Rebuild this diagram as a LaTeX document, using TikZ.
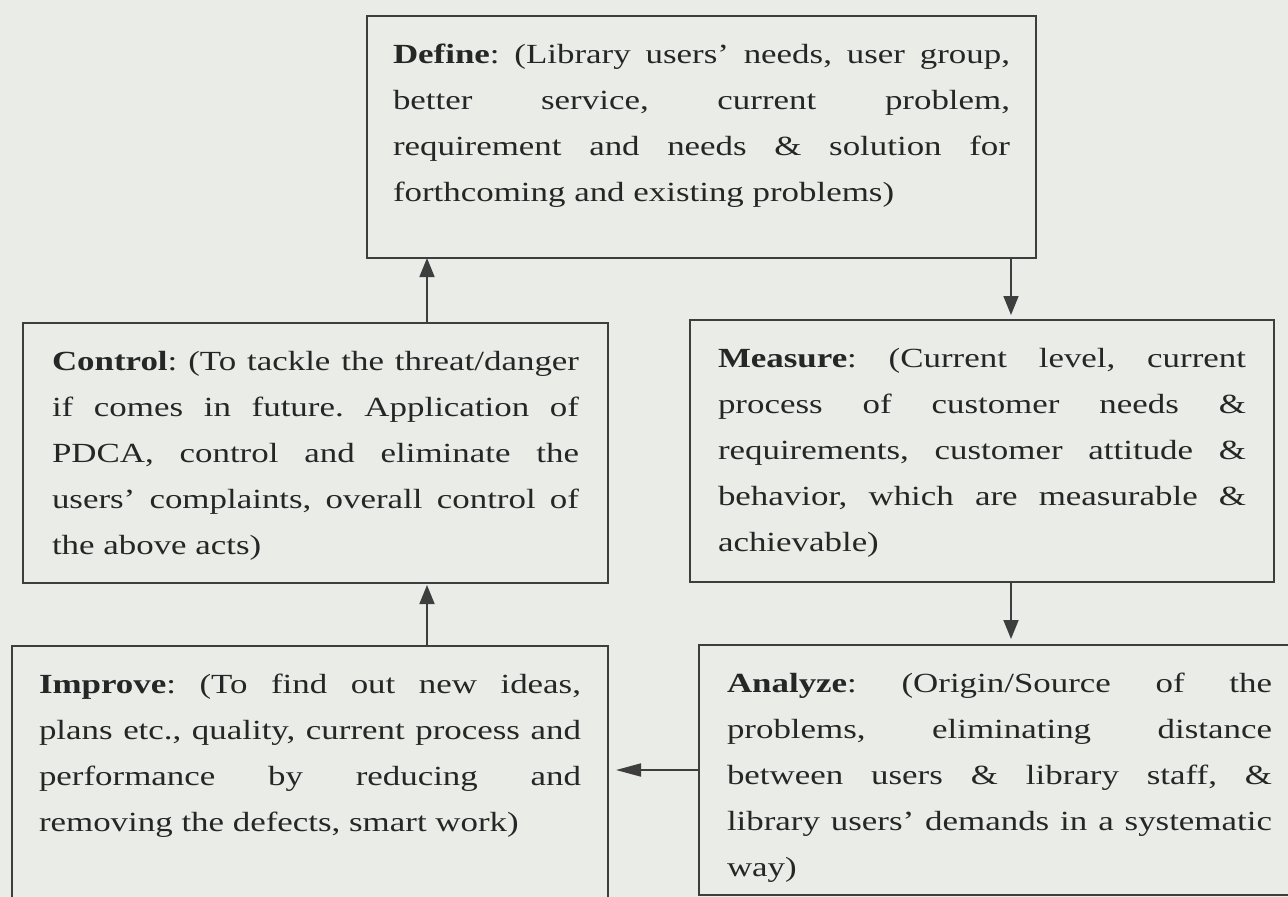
\documentclass[tikz,border=0pt]{standalone}
\usepackage{fontspec}
\setmainfont{Liberation Serif}[FakeStretch=1.26]
\usetikzlibrary{arrows.meta}
\definecolor{bgc}{RGB}{234,236,232}
\definecolor{linec}{RGB}{62,62,62}
\definecolor{textc}{RGB}{38,38,38}
\newcommand\jl[1]{\makebox[\linewidth][s]{#1}\par}
\newcommand\fs{\rule{0pt}{47pt}}
\frenchspacing
\tikzset{
  box/.style={draw=linec, line width=1.5pt, inner ysep=0pt, outer sep=0pt, anchor=north west,
    font=\fontsize{27.7}{46}\selectfont\frenchspacing, text=textc},
  arr/.style={draw=linec, line width=1.7pt, -{Triangle[length=19pt,width=15pt]}},
  harr/.style={draw=linec, line width=1.7pt, -{Triangle[length=25pt,width=13pt]}}
}
\begin{document}
\begin{tikzpicture}[x=1pt,y=-1pt]
\useasboundingbox (0,0) rectangle (1288,897);
\clip (0,0) rectangle (1288,897);
\fill[bgc] (0,0) rectangle (1288,897);

\node[box, inner xsep=26pt] (def) at (367,16) {\begin{minipage}[c][242pt][t]{617pt}
\fs\jl{\textbf{Define}: (Library users’ needs, user group,}
\jl{better service, current problem,}
\jl{requirement and needs \& solution for}
forthcoming and existing problems)
\end{minipage}};

\node[box, inner xsep=29pt] (ctrl) at (23,323) {\begin{minipage}[c][260pt][t]{527pt}
\fs\jl{\textbf{Control}: (To tackle the threat/danger}
\jl{if comes in future. Application of}
\jl{PDCA, control and eliminate the}
\jl{users’ complaints, overall control of}
the above acts)
\end{minipage}};

\node[box, inner xsep=28pt] (meas) at (690,320) {\begin{minipage}[c][262pt][t]{528pt}
\fs\jl{\textbf{Measure}: (Current level, current}
\jl{process of customer needs \&}
\jl{requirements, customer attitude \&}
\jl{behavior, which are measurable \&}
achievable)
\end{minipage}};

\node[box, inner xsep=27pt] (impr) at (12,646) {\begin{minipage}[c][280pt][t]{542pt}
\fs\jl{\textbf{Improve}: (To find out new ideas,}
\jl{plans etc., quality, current process and}
\jl{performance by reducing and}
removing the defects, smart work)
\end{minipage}};

\node[box, inner xsep=28pt] (anal) at (699,645) {\begin{minipage}[c][250pt][t]{545pt}
\fs\jl{\textbf{Analyze}: (Origin/Source of the}
\jl{problems, eliminating distance}
\jl{between users \& library staff, \&}
\jl{library users’ demands in a systematic}
way)
\end{minipage}};

\coordinate (xl) at (427,0);
\coordinate (xr) at (1011,0);
\coordinate (yh) at (0,770);

\draw[arr] (ctrl.north -| xl) -- (def.south -| xl);
\draw[arr, shorten >=5pt] (def.south -| xr) -- (meas.north -| xr);
\draw[arr, shorten >=2pt] (impr.north -| xl) -- (ctrl.south -| xl);
\draw[arr, shorten >=6pt] (meas.south -| xr) -- (anal.north -| xr);
\draw[harr, shorten >=8pt] (anal.west |- yh) -- (impr.east |- yh);
\end{tikzpicture}
\end{document}
